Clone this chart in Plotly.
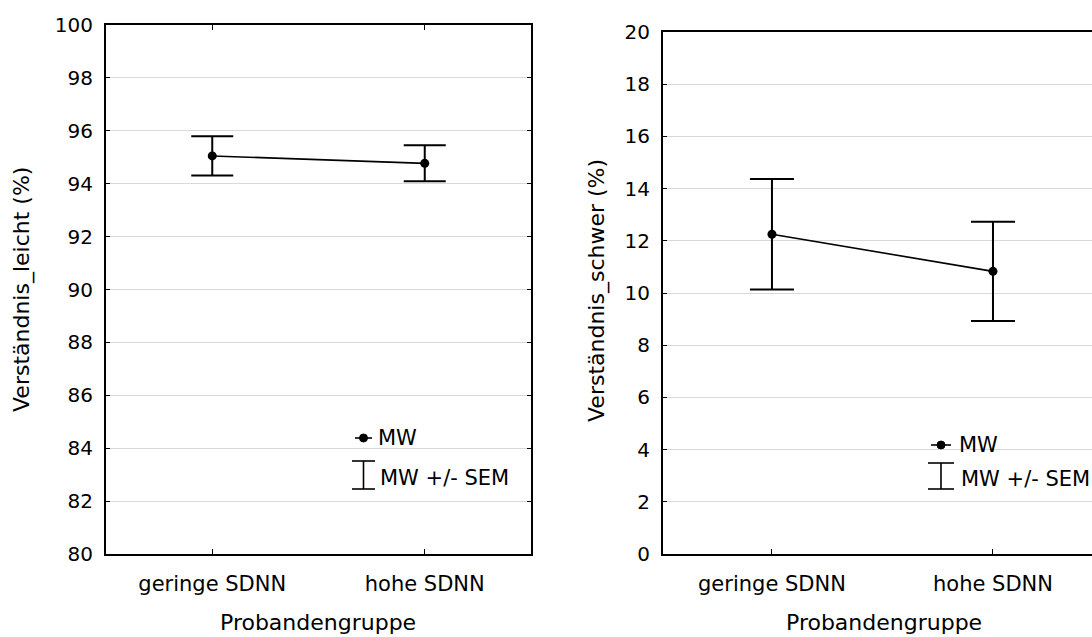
import plotly.graph_objects as go

W, H = 1092, 637

categories = ["geringe SDNN", "hohe SDNN"]
leicht_mean = [95.05, 94.77]
leicht_sem = [0.74, 0.68]
schwer_mean = [12.25, 10.83]
schwer_sem = [2.12, 1.90]
left_yticks = list(range(80, 101, 2))
right_yticks = list(range(0, 21, 2))
legend_labels = ["MW", "MW +/- SEM"]

FONT = "DejaVu Sans, Liberation Sans, sans-serif"


def px(x):
    return x / W


def py(y):
    return 1 - y / H


fig = go.Figure()

fig.add_trace(go.Scatter(
    x=[0, 1], y=leicht_mean, mode="lines+markers",
    line=dict(color="black", width=1.6),
    marker=dict(color="black", size=9),
    error_y=dict(type="data", array=leicht_sem, visible=True,
                 color="black", thickness=2, width=21),
    xaxis="x", yaxis="y", showlegend=False, hoverinfo="skip"))

fig.add_trace(go.Scatter(
    x=[0, 1], y=schwer_mean, mode="lines+markers",
    line=dict(color="black", width=1.6),
    marker=dict(color="black", size=9),
    error_y=dict(type="data", array=schwer_sem, visible=True,
                 color="black", thickness=2, width=22),
    xaxis="x2", yaxis="y2", showlegend=False, hoverinfo="skip"))

common_x = dict(showline=True, linecolor="black", linewidth=2,
                ticks="inside", ticklen=5, tickwidth=1, tickcolor="black",
                tickvals=[0, 1], ticktext=categories, showgrid=False,
                zeroline=False, automargin=False,
                tickfont=dict(family=FONT, size=21, color="black"),
                ticklabelstandoff=10)
common_y = dict(showline=True, linecolor="black", linewidth=2,
                ticks="inside", ticklen=4, tickwidth=1, tickcolor="black",
                showgrid=True, gridcolor="#d9d9d9", gridwidth=1,
                zeroline=False, automargin=False,
                tickfont=dict(family=FONT, size=20, color="black"),
                ticklabelstandoff=7)

fig.update_layout(
    width=W, height=H,
    margin=dict(l=0, r=0, t=0, b=0, pad=0),
    paper_bgcolor="white", plot_bgcolor="white",
    xaxis=dict(domain=[px(106), px(531)], range=[-0.5, 1.5], anchor="y",
               mirror="ticks", **common_x),
    yaxis=dict(domain=[py(554), py(25)], range=[80, 100], anchor="x",
               tickvals=left_yticks, mirror="ticks", **common_y),
    xaxis2=dict(domain=[px(663), 1.0], range=[-0.493, 1.448], anchor="y2",
                mirror=True, **common_x),
    yaxis2=dict(domain=[py(554), py(32)], range=[0, 20], anchor="x2",
                tickvals=right_yticks, mirror=False, **common_y),
)

ann_font = dict(family=FONT, size=22, color="black")
annotations = [
    dict(text="Verständnis_leicht (%)", x=px(22), y=py(290), textangle=-90),
    dict(text="Verständnis_schwer (%)", x=px(597), y=py(290), textangle=-90),
    dict(text="Probandengruppe", x=px(318), y=py(622)),
    dict(text="Probandengruppe", x=px(884), y=py(622)),
]
for a in annotations:
    fig.add_annotation(xref="paper", yref="paper", showarrow=False,
                       xanchor="center", yanchor="middle", font=ann_font, **a)

# legends (drawn manually)
leg_font = dict(family=FONT, size=21, color="black")
for (lx0, lx1, ly_mw, ly_top, ly_bot, tx) in [
        (355, 372, 438, 461, 489, 376),
        (931, 951, 445, 463, 489, 957)]:
    cx = (lx0 + lx1) / 2
    fig.add_shape(type="line", xref="paper", yref="paper",
                  x0=px(lx0), x1=px(lx1), y0=py(ly_mw), y1=py(ly_mw),
                  line=dict(color="black", width=1.6))
    fig.add_shape(type="circle", xref="paper", yref="paper",
                  x0=px(cx - 4), x1=px(cx + 4), y0=py(ly_mw - 4), y1=py(ly_mw + 4),
                  fillcolor="black", line=dict(color="black", width=1))
    for yy in (ly_top, ly_bot):
        fig.add_shape(type="line", xref="paper", yref="paper",
                      x0=px(lx0 - 3), x1=px(lx1 + 3), y0=py(yy), y1=py(yy),
                      line=dict(color="black", width=1.6))
    fig.add_shape(type="line", xref="paper", yref="paper",
                  x0=px(cx), x1=px(cx), y0=py(ly_top), y1=py(ly_bot),
                  line=dict(color="black", width=1.6))
    fig.add_annotation(xref="paper", yref="paper", showarrow=False,
                       x=px(tx), y=py(ly_mw), xanchor="left", yanchor="middle",
                       text=legend_labels[0], font=leg_font)
    fig.add_annotation(xref="paper", yref="paper", showarrow=False,
                       x=px(tx + 2), y=py((ly_top + ly_bot) / 2 + 3), xanchor="left",
                       yanchor="middle", text=legend_labels[1], font=leg_font)

fig.write_html("out.html")
